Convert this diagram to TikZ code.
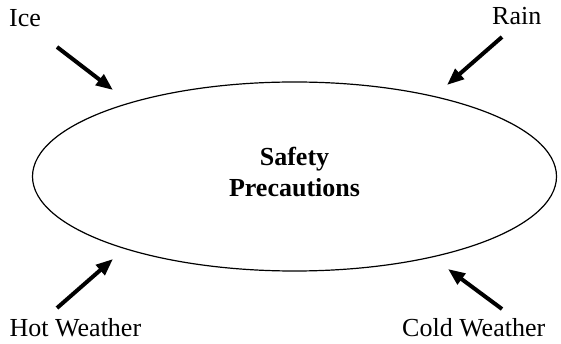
\documentclass[tikz,border=0pt]{standalone}
\usepackage{fontspec}
\setmainfont{Liberation Serif}
\usetikzlibrary{arrows.meta,shapes.geometric}
\tikzset{
  lbl/.style={anchor=base west,inner sep=0pt,font=\fontsize{26}{31}\selectfont},
  bigarrow/.style={line width=4pt,-{Triangle[length=17pt,width=13pt]},shorten <=0pt},
  oval/.style={draw,ellipse,line width=1.2pt,minimum width=524pt,minimum height=189pt,inner sep=0pt}
}
\begin{document}
\begin{tikzpicture}[x=1pt,y=-1pt]
\useasboundingbox (0,0) rectangle (561,344);
\node[oval] (sp) at (294.5,176.5) {};
\node[align=center,inner sep=0pt,font=\bfseries\fontsize{26}{31}\selectfont] (t) at (294.5,172) {Safety\\Precautions};
\node[lbl] (ice) at (9,27) {Ice};
\node[lbl] (rain) at (492,25) {Rain};
\node[lbl] (hot) at (9.5,336) {Hot Weather};
\node[lbl] (cold) at (402,336) {Cold Weather};
\coordinate (a1) at (57,47);  \coordinate (b1) at (113,90);
\coordinate (a2) at (502,37); \coordinate (b2) at (447,85);
\coordinate (a3) at (57,308); \coordinate (b3) at (113,259);
\coordinate (a4) at (502,309);\coordinate (b4) at (448,269);
\draw[bigarrow] (a1) -- (b1);
\draw[bigarrow] (a2) -- (b2);
\draw[bigarrow] (a3) -- (b3);
\draw[bigarrow] (a4) -- (b4);
\end{tikzpicture}
\end{document}
